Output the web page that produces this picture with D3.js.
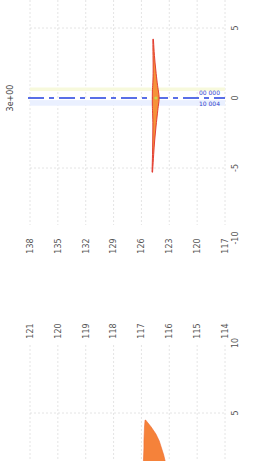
<!doctype html>
<html>
<head>
  <meta charset="utf-8">
  <script src="https://d3js.org/d3.v7.min.js"></script>
  <style>
    body { margin:0; background:#fff; }
    svg { display:block; }
    .tick { font-family:"DejaVu Sans",sans-serif; font-size:8px; fill:#555; }
    .grid { stroke:#ddd; stroke-width:0.8; stroke-dasharray:2,2; }
  </style>
</head>
<body>
  <svg id="chart" width="266" height="461"></svg>
  <script>
    // columns and their labels (two label rows)
    const cols          = [0, 1, 2, 3, 4, 5, 6, 7];
    const labelsTop     = ["138", "135", "132", "129", "126", "123", "120", "117"];
    const labelsBottom  = ["121", "120", "119", "118", "117", "116", "115", "114"];
    const ticksTop      = [5, 0, -5, -10];
    const ticksBottom   = [10, 5];
    const gridTop       = [5, -5];
    const gridBottom    = [5];

    // violin around the reference line
    const violinV = [4.2, 3, 2, 1, 0.5, 0, -0.5, -1, -2, -3, -4, -5.3];
    const violinC = [4.42, 4.44, 4.47, 4.49, 4.5, 4.52, 4.5, 4.49, 4.47, 4.44, 4.42, 4.39];
    const violinW = [0.01, 0.025, 0.045, 0.08, 0.11, 0.13, 0.11, 0.09, 0.055, 0.035, 0.02, 0.01];

    // lower panel tail
    const tailV  = [4.5, 4.0, 3.5, 3.0, 2.5, 2.0, 1.5];
    const tailLo = [4.13, 4.11, 4.10, 4.09, 4.09, 4.08, 4.07];
    const tailHi = [4.15, 4.35, 4.52, 4.64, 4.72, 4.80, 4.86];

    const refValue   = 0;
    const refLabels  = ["00 000", "10 004"];
    const bandsTop   = [[0.5, 0.75, "#f7f9dc"], [-0.15, -0.55, "#eaf0ff"]];
    const sideLabel  = "3e+00";

    const svg = d3.select("#chart");
    const x  = d3.scaleLinear().domain([0, 7]).range([30, 225]);
    const yT = d3.scaleLinear().domain([5, -5]).range([28, 168]);
    const yB = d3.scaleLinear().domain([10, 5]).range([343, 413]);

    // top panel grid
    svg.selectAll(".vgT").data(cols).join("line")
      .attr("class", "grid")
      .attr("x1", d => x(d)).attr("x2", d => x(d))
      .attr("y1", 0).attr("y2", 225);
    svg.selectAll(".hgT").data(gridTop).join("line")
      .attr("class", "grid")
      .attr("x1", x(0)).attr("x2", x(7))
      .attr("y1", d => yT(d)).attr("y2", d => yT(d));

    // bands
    svg.selectAll(".band").data(bandsTop).join("rect")
      .attr("x", x(0)).attr("width", x(7) - x(0))
      .attr("y", d => Math.min(yT(d[0]), yT(d[1])))
      .attr("height", d => Math.abs(yT(d[0]) - yT(d[1])))
      .attr("fill", d => d[2]);

    // reference line
    svg.append("line")
      .attr("x1", x(0) - 2).attr("x2", x(7))
      .attr("y1", yT(refValue)).attr("y2", yT(refValue))
      .attr("stroke", "#2340e0").attr("stroke-width", 1.6)
      .attr("stroke-dasharray", "16,5,5,5");

    // violin
    const vPts = violinV.map((v, i) => ({v, c: violinC[i], w: violinW[i]}));
    svg.append("path").datum(vPts)
      .attr("d", d3.area()
        .y(d => yT(d.v))
        .x0(d => x(d.c - d.w))
        .x1(d => x(d.c + d.w))
        .curve(d3.curveBasis))
      .attr("fill", "#f5923a")
      .attr("stroke", "#e0302a").attr("stroke-width", 0.9);
    svg.append("circle")
      .attr("cx", x(4.52)).attr("cy", yT(refValue)).attr("r", 1.6)
      .attr("fill", "#c8d84a");

    svg.selectAll(".refl").data(refLabels).join("text")
      .attr("x", 199).attr("y", (d, i) => yT(refValue) + (i === 0 ? -3 : 8))
      .attr("font-family", "DejaVu Sans, sans-serif").attr("font-size", 6)
      .attr("fill", "#3344cc")
      .text(d => d);

    // right ticks
    svg.selectAll(".rtT").data(ticksTop).join("text")
      .attr("class", "tick")
      .attr("transform", d => `translate(${x(7) + 10},${yT(d)}) rotate(-90)`)
      .attr("text-anchor", "middle").attr("dy", "0.35em")
      .text(d => d);
    svg.selectAll(".rtB").data(ticksBottom).join("text")
      .attr("class", "tick")
      .attr("transform", d => `translate(${x(7) + 10},${yB(d)}) rotate(-90)`)
      .attr("text-anchor", "middle").attr("dy", "0.35em")
      .text(d => d);

    // column label rows
    svg.selectAll(".lt").data(cols).join("text")
      .attr("class", "tick")
      .attr("transform", d => `translate(${x(d)},246) rotate(-90)`)
      .attr("text-anchor", "middle").attr("dy", "0.35em")
      .attr("fill", "#444")
      .text(d => labelsTop[d]);
    svg.selectAll(".lb").data(cols).join("text")
      .attr("class", "tick")
      .attr("transform", d => `translate(${x(d)},331) rotate(-90)`)
      .attr("text-anchor", "middle").attr("dy", "0.35em")
      .attr("fill", "#444")
      .text(d => labelsBottom[d]);

    // side label
    svg.append("text")
      .attr("transform", `translate(10,${yT(refValue)}) rotate(-90)`)
      .attr("text-anchor", "middle").attr("dy", "0.35em")
      .attr("font-family", "DejaVu Sans, sans-serif").attr("font-size", 8)
      .attr("fill", "#444")
      .text(sideLabel);

    // bottom panel grid
    svg.selectAll(".vgB").data(cols).join("line")
      .attr("class", "grid")
      .attr("x1", d => x(d)).attr("x2", d => x(d))
      .attr("y1", 345).attr("y2", 461);
    svg.selectAll(".hgB").data(gridBottom).join("line")
      .attr("class", "grid")
      .attr("x1", x(0)).attr("x2", x(7))
      .attr("y1", d => yB(d)).attr("y2", d => yB(d));

    // tail area
    const tPts = tailV.map((v, i) => ({v, lo: tailLo[i], hi: tailHi[i]}));
    svg.append("path").datum(tPts)
      .attr("d", d3.area()
        .y(d => yB(d.v))
        .x0(d => x(d.lo))
        .x1(d => x(d.hi))
        .curve(d3.curveLinear))
      .attr("fill", "#f5823a")
      .attr("stroke", "#f06a30").attr("stroke-width", 0.6);
  </script>
</body>
</html>
